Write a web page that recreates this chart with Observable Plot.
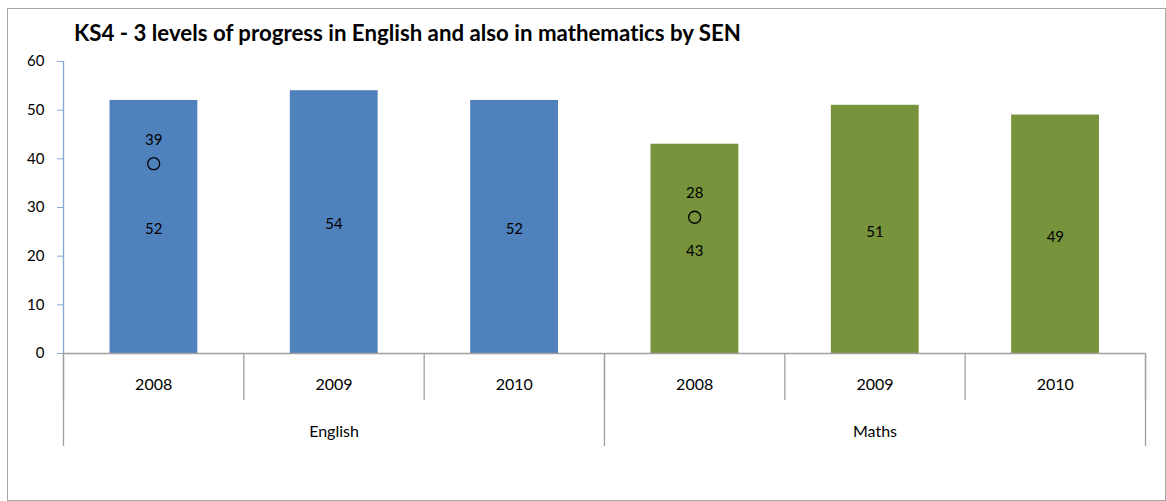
<!DOCTYPE html>
<html>
<head>
<meta charset="utf-8">
<script src="https://cdn.jsdelivr.net/npm/d3@7"></script>
<script src="https://cdn.jsdelivr.net/npm/@observablehq/plot@0.6"></script>
<style>
  html, body { margin: 0; padding: 0; background: #fff; }
  #wrap { position: relative; width: 1166px; height: 501px; overflow: hidden; font-family: Lato, "Open Sans", sans-serif; font-variant-ligatures: none; }
  #border { position: absolute; left: 7px; top: 8px; width: 1159px; height: 493px; box-sizing: border-box; border: 1px solid #a6a6a6; }
  #title { position: absolute; left: 74px; top: 22.5px; font-size: 19.5px; line-height: 20px; font-weight: bold; color: #000; white-space: nowrap; font-variant-ligatures: none; }
  #chart { position: absolute; left: 0; top: 0; }
  #chart svg text { font-variant-ligatures: none; }
</style>
</head>
<body>
<div id="wrap">
  <div id="border"></div>
  <div id="chart"></div>
  <div id="title">KS4 - 3 levels of progress in English and also in mathematics by SEN</div>
</div>
<script>
// ---- data ----
const subjects = ["English", "English", "English", "Maths", "Maths", "Maths"];
const years = ["2008", "2009", "2010", "2008", "2009", "2010"];
const values = [52, 54, 52, 43, 51, 49];
const markerValues = [39, null, null, 28, null, null];
const groupNames = ["English", "Maths"];
const yTicks = [0, 10, 20, 30, 40, 50, 60];
const subjectColors = { English: "#4f81bd", Maths: "#77933c" };

// fit title width to reference
const titleEl = document.getElementById("title");
const targetW = 667;
const w0 = titleEl.getBoundingClientRect().width;
if (w0 > 0) titleEl.style.fontSize = (19.5 * targetW / w0).toFixed(2) + "px";

const rows = values.map((v, i) => ({ i, subject: subjects[i], year: years[i], value: v, marker: markerValues[i] }));
const markers = rows.filter(d => d.marker != null);

const nCat = rows.length;
const catBounds = d3.range(0, nCat + 1);
const catCenters = rows.map(d => d.i + 0.5);
const groupBounds = [0];
groupNames.forEach(g => groupBounds.push(groupBounds[groupBounds.length - 1] + subjects.filter(s => s === g).length));
const groupCenters = groupNames.map((g, k) => (groupBounds[k] + groupBounds[k + 1]) / 2);

const chart = Plot.plot({
  width: 1166,
  height: 501,
  marginTop: 61,
  marginBottom: 148,
  marginLeft: 63,
  marginRight: 21,
  style: { fontFamily: "Lato, 'Open Sans', sans-serif", fontSize: "15px", color: "#000", background: "transparent" },
  x: { type: "linear", domain: [0, nCat] },
  y: { domain: [0, 60] },
  marks: [
    Plot.rectY(rows, { x1: d => d.i, x2: d => d.i + 1, y1: 0, y2: "value", insetLeft: 46.5, insetRight: 46, fill: d => subjectColors[d.subject] }),
    Plot.text(rows, { x: d => d.i + 0.5, y: d => d.value / 2, text: d => String(d.value), dy: 2.5, fill: "#000", fontSize: 15 }),
    Plot.dot(markers, { x: d => d.i + 0.5, y: "marker", r: 6, stroke: "#000", strokeWidth: 1.3, fill: "none" }),
    Plot.text(markers, { x: d => d.i + 0.5, y: "marker", text: d => String(d.marker), dy: -24, fill: "#000", fontSize: 15 }),
    // y axis
    Plot.ruleX([0], { y1: 0, y2: 60, stroke: "#86a7d4", strokeWidth: 1.3 }),
    Plot.axisY(yTicks, { tickSize: 6, tickPadding: 13, stroke: "#86a7d4", fill: "#000", fontSize: 15, label: null }),
    // x axis line
    Plot.ruleY([0], { stroke: "#a0a0a0", strokeWidth: 1.5 }),
    // category separators
    Plot.axisX(catBounds, { tickSize: 47, text: null, stroke: "#a0a0a0", strokeWidth: 1.3, label: null }),
    Plot.axisX(groupBounds, { tickSize: 93, text: null, stroke: "#a0a0a0", strokeWidth: 1.3, label: null }),
    // year labels
    Plot.axisX(catCenters, { tickSize: 0, tickPadding: 25, tickFormat: x => years[Math.round(x - 0.5)], fill: "#000", fontSize: 16, label: null }),
    // group labels
    Plot.axisX(groupCenters, { tickSize: 0, tickPadding: 72, tickFormat: x => groupNames[groupCenters.indexOf(x)], fill: "#000", fontSize: 16, label: null })
  ]
});
document.getElementById("chart").appendChild(chart);
</script>
</body>
</html>
